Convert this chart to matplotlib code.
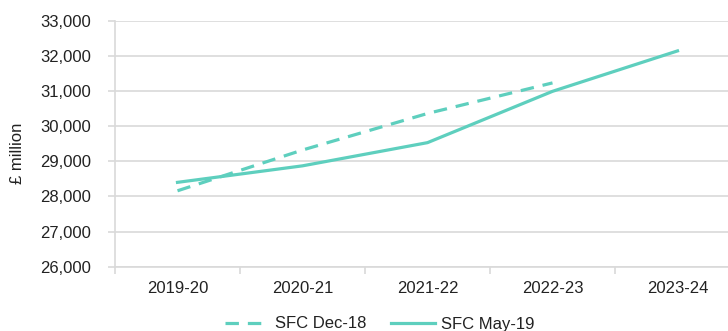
import matplotlib
matplotlib.use("Agg")
import matplotlib.pyplot as plt
from matplotlib.ticker import FuncFormatter, FixedLocator

plt.rcParams['font.family'] = ['Liberation Sans', 'DejaVu Sans']

years = ['2019-20', '2020-21', '2021-22', '2022-23', '2023-24']
sfc_dec18 = [28160, 29320, 30360, 31230]
sfc_may19 = [28400, 28870, 29530, 30990, 32140]

teal = '#5ECFBE'
grid_grey = '#D9D9D9'

fig = plt.figure(figsize=(7.28, 3.31), dpi=100)
ax = fig.add_axes([115 / 728, 1 - 266.7 / 331, 625 / 728, 246 / 331])

x = list(range(len(years)))
ax.plot(x[:len(sfc_dec18)], sfc_dec18, color=teal, lw=2.3, dashes=(4.2, 2.8),
        solid_capstyle='butt', label='SFC Dec-18')
ax.plot(x, sfc_may19, color=teal, lw=2.3, label='SFC May-19')

ax.set_xlim(-0.5, len(years) - 0.5)
ax.set_ylim(26000, 33000)
ax.set_yticks(range(26000, 33001, 1000))
ax.yaxis.set_major_formatter(FuncFormatter(lambda v, p: f'{int(v):,}'))
ax.grid(axis='y', color=grid_grey, lw=1.2)
ax.set_axisbelow(True)

# category labels sit between boundary ticks
ax.set_xticks(x)
ax.set_xticklabels(years)
ax.xaxis.set_minor_locator(FixedLocator([i - 0.5 for i in range(len(years) + 1)]))
ax.tick_params(axis='x', which='major', length=0, pad=10, labelsize=12, colors='#222222')
ax.tick_params(axis='x', which='minor', length=5, color=grid_grey, width=1.2)
ax.tick_params(axis='y', length=5, color=grid_grey, width=1.2, pad=12,
               labelsize=12, labelcolor='#222222')

for side in ['top', 'right']:
    ax.spines[side].set_visible(False)
for side in ['left', 'bottom']:
    ax.spines[side].set_color(grid_grey)
    ax.spines[side].set_linewidth(1.2)

fig.text(17.5 / 728, 1 - 153 / 331, '£ million', rotation=90, ha='center', va='center',
         fontsize=12, color='#222222')

ax.legend(loc='center', bbox_to_anchor=(380 / 728, 1 - 324 / 331),
          bbox_transform=fig.transFigure, ncol=2, frameon=False, fontsize=12,
          handlelength=2.6, handletextpad=0.4, columnspacing=1.5,
          labelcolor='#222222')

fig.savefig('out.png', dpi=100)
